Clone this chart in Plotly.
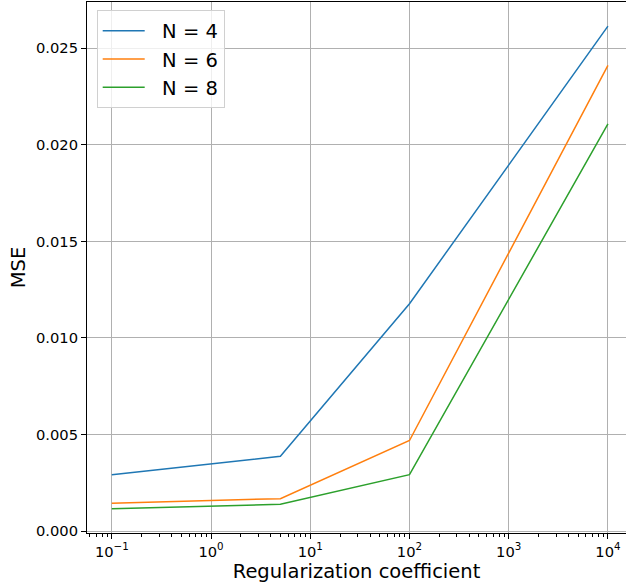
import plotly.graph_objects as go

# Regularization coefficients and mean squared error for each model size
reg_coef = [0.1, 5, 100, 10000]
mse_n4 = [0.00292, 0.00387, 0.01177, 0.02615]
mse_n6 = [0.00144, 0.00168, 0.00469, 0.02412]
mse_n8 = [0.00115, 0.00139, 0.00292, 0.02109]
series_names = ["N = 4", "N = 6", "N = 8"]
series_colors = ["#1f77b4", "#ff7f0e", "#2ca02c"]

x_tick_vals = [0.1, 1, 10, 100, 1000, 10000]
x_tick_text = ["10<sup>\u22121</sup>", "10<sup>0</sup>", "10<sup>1</sup>",
               "10<sup>2</sup>", "10<sup>3</sup>", "10<sup>4</sup>"]
y_tick_vals = [0.0, 0.005, 0.010, 0.015, 0.020, 0.025]

font_family = "DejaVu Sans, sans-serif"

fig = go.Figure()
for name, vals, color in zip(series_names, [mse_n4, mse_n6, mse_n8], series_colors):
    fig.add_trace(go.Scatter(
        x=reg_coef, y=vals, mode="lines",
        # non-breaking spaces widen the gap between the legend swatch and label
        name="\u00a0\u00a0" + name,
        line=dict(color=color, width=1.5),
    ))

fig.update_layout(
    width=626, height=586,
    margin=dict(l=87, r=0, t=2, b=53),
    paper_bgcolor="white", plot_bgcolor="white",
    font=dict(family=font_family, color="black", size=14.7),
    showlegend=True,
    legend=dict(
        x=0.018, y=0.984, xanchor="left", yanchor="top",
        bgcolor="rgba(255,255,255,0.8)", bordercolor="#d0d0d0", borderwidth=1,
        font=dict(size=19.5, family=font_family),
        itemwidth=42, tracegroupgap=0,
    ),
)

fig.update_xaxes(
    type="log", range=[-1.25, 4.182],
    tickvals=x_tick_vals, ticktext=x_tick_text,
    tickfont=dict(size=14.7),
    ticks="outside", ticklen=5, tickwidth=1, tickcolor="black",
    minor=dict(ticks="outside", ticklen=2.5, tickwidth=0.8, tickcolor="black",
               dtick="D1", showgrid=False),
    showline=True, linecolor="black", linewidth=1, mirror=True,
    showgrid=True, gridcolor="#b0b0b0", gridwidth=1,
    zeroline=False,
    title=dict(text="Regularization coefficient", font=dict(size=19.5), standoff=3),
)

fig.update_yaxes(
    range=[-0.0001, 0.02740],
    tickvals=y_tick_vals, tickformat=".3f",
    tickfont=dict(size=14.7),
    ticks="outside", ticklen=5, tickwidth=1, tickcolor="black",
    showline=True, linecolor="black", linewidth=1, mirror=False,
    showgrid=True, gridcolor="#b0b0b0", gridwidth=1,
    zeroline=False,
    title=dict(text="MSE", font=dict(size=19.5), standoff=5),
)

fig.write_html("out.html")
